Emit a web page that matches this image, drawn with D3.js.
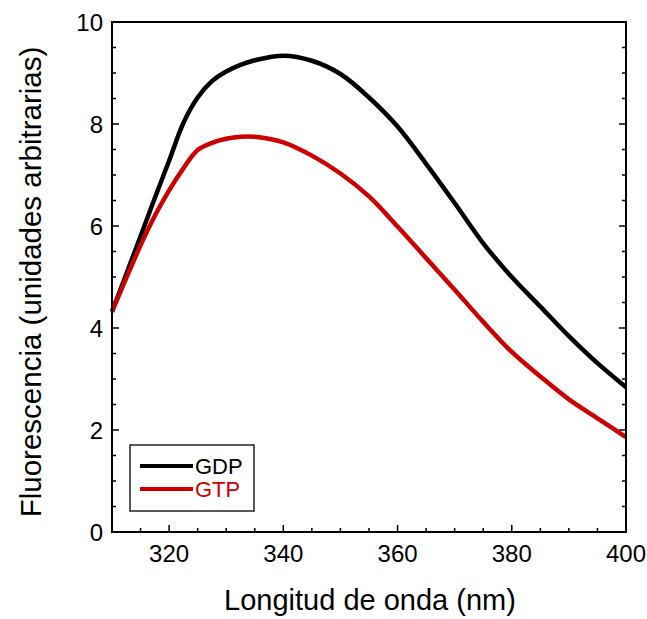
<!DOCTYPE html>
<html>
<head>
<meta charset="utf-8">
<script src="https://cdn.jsdelivr.net/npm/d3@7"></script>
<style>
  body { margin: 0; background: #fff; }
  svg text { font-family: "Liberation Sans", Arial, sans-serif; fill: #000; }
</style>
</head>
<body>
<svg id="chart" width="647" height="619"></svg>
<script>
// Wavelength (nm)
const wavelength = [310, 315, 317.5, 320, 322.5, 325, 327.5, 330, 332.5, 335, 340, 345, 350, 355, 360, 365, 370, 375, 380, 385, 390, 395, 400];
// Fluorescence (arbitrary units)
const gdp = [4.32, 5.80, 6.55, 7.28, 8.02, 8.52, 8.84, 9.03, 9.16, 9.25, 9.34, 9.24, 8.98, 8.52, 7.95, 7.22, 6.45, 5.66, 5.00, 4.42, 3.84, 3.31, 2.84];
const gtp = [4.32, 5.62, 6.20, 6.70, 7.13, 7.49, 7.63, 7.71, 7.75, 7.75, 7.64, 7.38, 7.03, 6.58, 5.99, 5.37, 4.75, 4.12, 3.53, 3.05, 2.60, 2.23, 1.86];
const xTicks = [320, 340, 360, 380, 400];
const yTicks = [0, 2, 4, 6, 8, 10];
const seriesNames = ['GDP', 'GTP'];
const seriesColors = ['#000000', '#cc0000'];

const svg = d3.select('#chart');
const m = { left: 112, top: 22, right: 626, bottom: 532 };

const x = d3.scaleLinear().domain([310, 400]).range([m.left, m.right]);
const y = d3.scaleLinear().domain([0, 10]).range([m.bottom, m.top]);

// Minor ticks
const xMinor = d3.range(315, 400, 5).filter((v) => v % 20 !== 0);
const yMinor = d3.range(0.5, 10, 0.5).filter((v) => v % 2 !== 0);

const gTicks = svg.append('g').attr('stroke', '#000').attr('stroke-width', 1.5);
xMinor.forEach((v) => {
  gTicks.append('line').attr('x1', x(v)).attr('x2', x(v)).attr('y1', m.bottom).attr('y2', m.bottom - 4);
});
xTicks.forEach((v) => {
  gTicks.append('line').attr('x1', x(v)).attr('x2', x(v)).attr('y1', m.bottom).attr('y2', m.bottom - 7);
});
yMinor.forEach((v) => {
  gTicks.append('line').attr('x1', m.left).attr('x2', m.left + 4).attr('y1', y(v)).attr('y2', y(v));
  gTicks.append('line').attr('x1', m.right).attr('x2', m.right - 4).attr('y1', y(v)).attr('y2', y(v));
});
yTicks.forEach((v) => {
  gTicks.append('line').attr('x1', m.left).attr('x2', m.left + 7).attr('y1', y(v)).attr('y2', y(v));
  gTicks.append('line').attr('x1', m.right).attr('x2', m.right - 7).attr('y1', y(v)).attr('y2', y(v));
});

// Tick labels
svg.append('g').selectAll('text').data(xTicks).join('text')
  .attr('x', (d) => x(d)).attr('y', 562)
  .attr('text-anchor', 'middle').attr('font-size', 24)
  .text((d) => d);
svg.append('g').selectAll('text').data(yTicks).join('text')
  .attr('x', 103).attr('y', (d) => y(d) + 8.5)
  .attr('text-anchor', 'end').attr('font-size', 24)
  .text((d) => d);

// Curves
const line = d3.line().x((d, i) => x(wavelength[i])).y((d) => y(d)).curve(d3.curveCatmullRom.alpha(0.5));
[gdp, gtp].forEach((s, k) => {
  svg.append('path').datum(s)
    .attr('d', line)
    .attr('fill', 'none')
    .attr('stroke', seriesColors[k])
    .attr('stroke-width', 4.5)
    .attr('stroke-linejoin', 'round');
});

// Frame
svg.append('rect')
  .attr('x', m.left).attr('y', m.top)
  .attr('width', m.right - m.left).attr('height', m.bottom - m.top)
  .attr('fill', 'none').attr('stroke', '#000').attr('stroke-width', 2);

// Legend
const legend = svg.append('g');
legend.append('rect')
  .attr('x', 130).attr('y', 445).attr('width', 124).attr('height', 66)
  .attr('fill', '#fff').attr('stroke', '#222').attr('stroke-width', 1.5);
seriesNames.forEach((n, k) => {
  const ly = 466 + k * 23;
  legend.append('line')
    .attr('x1', 140).attr('x2', 193).attr('y1', ly).attr('y2', ly)
    .attr('stroke', seriesColors[k]).attr('stroke-width', 4);
  legend.append('text')
    .attr('x', 195).attr('y', ly + 8).attr('font-size', 22)
    .style('fill', seriesColors[k])
    .text(n);
});

// Axis titles
svg.append('text')
  .attr('x', 370).attr('y', 610)
  .attr('text-anchor', 'middle').attr('font-size', 29)
  .text('Longitud de onda (nm)');
svg.append('text')
  .attr('transform', 'translate(41,282) rotate(-90)')
  .attr('text-anchor', 'middle').attr('font-size', 29.5)
  .text('Fluorescencia (unidades arbitrarias)');
</script>
</body>
</html>
